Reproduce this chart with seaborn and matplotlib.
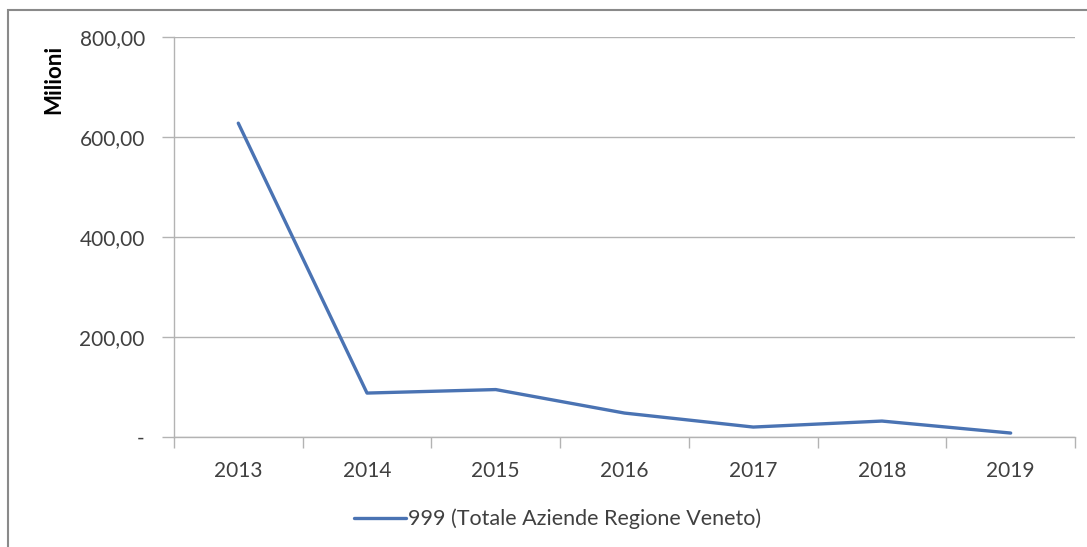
import pandas as pd
import numpy as np
import matplotlib
matplotlib.use("Agg")
import matplotlib.pyplot as plt
from matplotlib.patches import Rectangle
from matplotlib.ticker import FuncFormatter
import seaborn as sns

# data (millions)
years = ["2013", "2014", "2015", "2016", "2017", "2018", "2019"]
values = [628, 88, 95, 48, 20, 32, 8]
series_name = "999 (Totale Aziende Regione Veneto)"
y_ticks = [0, 200, 400, 600, 800]

sns.set_theme(style="white")
plt.rcParams["font.family"] = ["Lato", "DejaVu Sans"]

df = pd.DataFrame({"Anno": years, "Valore": values, "Serie": series_name})

fig = plt.figure(figsize=(10.87, 5.47), dpi=100)
ax = fig.add_axes([0.160, 0.201, 0.829, 0.731])

sns.lineplot(data=df, x="Anno", y="Valore", hue="Serie", palette=["#4a73b3"],
             linewidth=2.4, ax=ax, legend=False, sort=False)

grid_col = "#b3b3b3"
txt_col = "#404040"
ax.set_xlim(-0.5, len(years) - 0.5)
ax.set_ylim(0, 800)
ax.set_yticks(y_ticks)
ax.yaxis.set_major_formatter(FuncFormatter(
    lambda v, p: "-" if v == 0 else f"{v:.2f}".replace(".", ",")))
ax.grid(axis="y", color=grid_col, linewidth=1)
ax.set_axisbelow(True)

# category ticks between years
ax.set_xticks(np.arange(-0.5, len(years)), minor=True)
ax.tick_params(axis="x", which="minor", length=8, width=1, color=grid_col, direction="out")
ax.tick_params(axis="x", which="major", length=0, pad=17, labelsize=15, labelcolor=txt_col)
ax.tick_params(axis="y", length=9, width=1, color=grid_col, direction="out",
               pad=12, labelsize=15, labelcolor=txt_col)
ax.xaxis.set_ticks_position("bottom")
ax.yaxis.set_ticks_position("left")

for s in ["top", "right"]:
    ax.spines[s].set_visible(False)
for s in ["left", "bottom"]:
    ax.spines[s].set_color(grid_col)
    ax.spines[s].set_linewidth(1)

ax.set_xlabel("")
ax.set_ylabel("")
fig.text(0.049, 0.855, "Milioni", rotation=90, ha="center", va="center",
         fontsize=16, fontweight="bold", color="black")

# legend under the plot
handle = plt.Line2D([], [], color="#4a73b3", linewidth=2.4)
fig.legend([handle], [series_name], loc="center", bbox_to_anchor=(0.513, 0.051),
           frameon=False, fontsize=15.5, handlelength=2.4, handletextpad=0.1,
           labelcolor=txt_col)

# outer chart frame
fig.patches.append(Rectangle((8 / 1087, -0.2), 1.2, 1 - 10 / 547 + 0.2,
                             transform=fig.transFigure, fill=False,
                             edgecolor="#8a8a8a", linewidth=1.5))

fig.savefig("out.png", dpi=100, facecolor="white")
